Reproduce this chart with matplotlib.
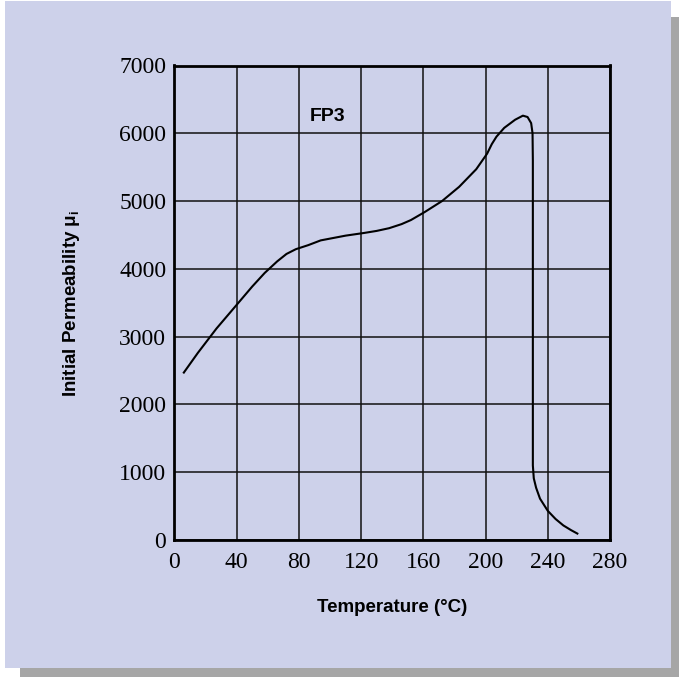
import matplotlib.pyplot as plt
from matplotlib.patches import Rectangle

# curve
temp = [6, 15, 27, 40, 50, 58, 66, 72, 78, 86, 94, 110, 122, 130, 138, 146, 152, 161,
        172, 183, 194, 201, 204, 207, 212, 219, 224, 227, 229.3, 230.2, 230.4, 230.4,
        231, 232.5, 235, 240, 245, 250, 255, 259]
perm = [2470, 2760, 3120, 3470, 3740, 3940, 4110, 4220, 4290, 4350, 4420, 4490, 4530,
        4560, 4600, 4660, 4720, 4840, 5000, 5210, 5470, 5700, 5840, 5950, 6080, 6200,
        6260, 6240, 6150, 6000, 5600, 1100, 910, 770, 610, 430, 310, 215, 145, 95]
xticks = [0, 40, 80, 120, 160, 200, 240, 280]
yticks = [0, 1000, 2000, 3000, 4000, 5000, 6000, 7000]

W, H = 679, 677
bg = '#cdd1ea'
fig = plt.figure(figsize=(W / 100, H / 100), dpi=100, facecolor='white')

# drop shadow + panel
fig.patches.append(Rectangle((20 / W, 0), 659 / W, 1 - 17 / H, transform=fig.transFigure,
                             facecolor='#a6a6a6', edgecolor='none', zorder=-2))
fig.patches.append(Rectangle((5 / W, 1 - 668 / H), 666 / W, 667 / H, transform=fig.transFigure,
                             facecolor=bg, edgecolor='none', zorder=-1))

ax = fig.add_axes([174.5 / W, 1 - 540 / H, 435.5 / W, 474.5 / H])
ax.set_facecolor(bg)
ax.set_xlim(0, 280)
ax.set_ylim(0, 7000)
ax.set_xticks(xticks)
ax.set_yticks(yticks)
ax.grid(True, color='#111111', linewidth=1.1)
ax.set_axisbelow(True)
for s in ax.spines.values():
    s.set_linewidth(2)
    s.set_color('black')
ax.tick_params(length=0, labelsize=17)
ax.tick_params(axis='x', pad=9)
ax.tick_params(axis='y', pad=6)
for lab in ax.get_xticklabels() + ax.get_yticklabels():
    lab.set_fontfamily('Liberation Serif')

ax.plot(temp, perm, color='black', linewidth=1.5)

bold = dict(family=['Liberation Sans', 'DejaVu Sans'], fontweight='bold')
ax.text(98.5, 6250, 'FP3', ha='center', va='center', fontsize=14, **bold)
fig.text(392 / W, 1 - 608 / H, 'Temperature (°C)', ha='center', va='center', fontsize=13.5, **bold)
fig.text(71 / W, 1 - 303 / H, r'Initial Permeability μ$_\mathregular{i}$', ha='center', va='center',
         rotation=90, fontsize=13.5, **bold)

fig.savefig('out.png', dpi=100, facecolor='white')
